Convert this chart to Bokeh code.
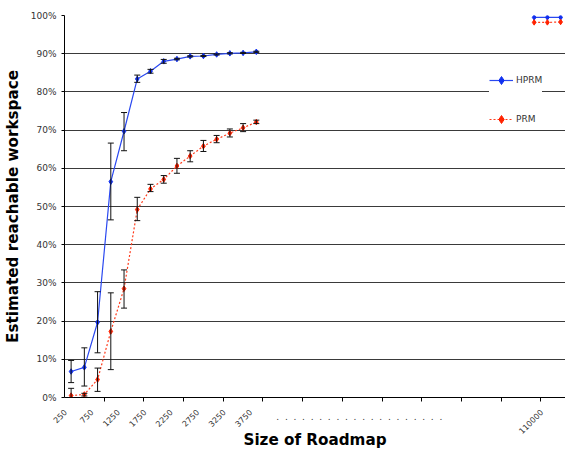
from bokeh.plotting import figure
from bokeh.models import (FixedTicker, Whisker, TeeHead, ColumnDataSource, Legend,
                          LegendItem, Label, PrintfTickFormatter, Range1d)
from bokeh.embed import file_html
from bokeh.resources import INLINE

# ---------------- data ----------------
sizes = [250, 500, 750, 1000, 1250, 1500, 1750, 2000, 2250, 2500, 2750, 3000, 3250, 3500, 3750]
hprm = [6.8, 7.9, 19.7, 56.5, 69.7, 83.4, 85.4, 88.0, 88.6, 89.3, 89.4, 89.8, 90.1, 90.2, 90.5]
hprm_lo = [3.9, 3.0, 11.7, 46.5, 64.6, 82.5, 84.9, 87.5, 88.4, 89.15, 89.25, 89.65, 89.95, 90.05, 90.35]
hprm_hi = [9.7, 13.0, 27.7, 66.6, 74.6, 84.4, 85.9, 88.5, 88.8, 89.45, 89.55, 89.95, 90.25, 90.35, 90.65]
prm = [0.5, 0.8, 4.7, 17.3, 28.5, 49.2, 54.6, 57.1, 60.6, 63.2, 65.8, 67.6, 69.2, 70.6, 72.1]
prm_lo = [0.0, 0.4, 1.6, 7.3, 23.4, 46.3, 53.9, 56.1, 58.7, 61.7, 64.4, 66.7, 68.2, 69.6, 71.7]
prm_hi = [2.4, 1.1, 7.7, 27.4, 33.4, 52.4, 55.8, 58.1, 62.6, 64.6, 67.3, 68.6, 70.3, 71.7, 72.6]

gap_categories = 20  # empty categories between the two groups
far_sizes = [100000, 110000, 120000]
far_labelled = [110000]
far_hprm = [99.5, 99.5, 99.5]
far_prm = [98.2, 98.2, 98.3]

y_ticks = [0, 10, 20, 30, 40, 50, 60, 70, 80, 90, 100]

# ---------------- positions from category order ----------------
x_main = list(range(len(sizes)))
x_far = [len(sizes) + gap_categories + i for i in range(len(far_sizes))]
n_cat = len(sizes) + gap_categories + len(far_sizes)

LABEL_SHIFT = -0.45  # rotated labels end slightly left of their category centre
labelled = [(x, str(s)) for x, s in zip(x_main[::2], sizes[::2])]
labelled += [(x_far[far_sizes.index(v)], str(v)) for v in far_labelled]
label_ticks = [x + LABEL_SHIFT for x, _ in labelled]
overrides = {x + LABEL_SHIFT: t for x, t in labelled}
tick_marks = [k + 2.5 for k in range(0, n_cat, 3)]

FONT = "DejaVu Sans"

p = figure(width=565, height=452, output_backend="svg", toolbar_location=None, title=None,
           x_range=Range1d(-0.5, n_cat - 0.63), y_range=Range1d(0, 100),
           min_border_left=62, min_border_top=15, min_border_right=0, min_border_bottom=55)
p.outline_line_color = None
p.background_fill_color = "white"

# grid
p.xgrid.visible = False
p.ygrid.ticker = FixedTicker(ticks=y_ticks)
p.ygrid.grid_line_color = "#3a3a3a"
p.ygrid.grid_line_width = 1.2

# y axis
ya = p.yaxis[0]
ya.ticker = FixedTicker(ticks=y_ticks)
ya.formatter = PrintfTickFormatter(format="%d%%")
ya.major_tick_out = 3
ya.major_tick_in = 0
ya.major_tick_line_color = "black"
ya.minor_tick_line_color = None
ya.axis_line_color = "black"
ya.major_label_text_font = FONT
ya.major_label_text_font_size = "9px"
ya.major_label_text_color = "#333333"
ya.major_label_standoff = 5
ya.axis_label = "Estimated reachable workspace"
ya.axis_label_text_font = FONT
ya.axis_label_text_font_style = "bold"
ya.axis_label_text_font_size = "15.2px"
ya.axis_label_text_color = "black"
ya.axis_label_standoff = 6

# x axis
xa = p.xaxis[0]
xa.ticker = FixedTicker(ticks=label_ticks, minor_ticks=tick_marks)
xa.major_label_overrides = overrides
xa.major_tick_line_color = None
xa.major_tick_out = 0
xa.major_tick_in = 0
xa.minor_tick_line_color = "black"
xa.minor_tick_out = 4
xa.minor_tick_in = 0
xa.axis_line_color = "black"
xa.major_label_orientation = 0.785398
xa.major_label_text_font = FONT
xa.major_label_text_font_size = "8px"
xa.major_label_text_color = "#333333"
xa.major_label_standoff = 9
xa.axis_label = "Size of Roadmap"
xa.axis_label_text_font = FONT
xa.axis_label_text_font_style = "bold"
xa.axis_label_text_font_size = "15.2px"
xa.axis_label_text_color = "black"
xa.axis_label_standoff = -9

# error bars
HEAD = 6
for lo, hi in ((hprm_lo, hprm_hi), (prm_lo, prm_hi)):
    src = ColumnDataSource(dict(x=x_main, lo=lo, hi=hi))
    w = Whisker(source=src, base="x", lower="lo", upper="hi",
                line_color="#111111", line_width=1,
                upper_head=TeeHead(size=HEAD, line_color="#111111", line_width=1),
                lower_head=TeeHead(size=HEAD, line_color="#111111", line_width=1),
                level="annotation")
    p.add_layout(w)

BLUE = "#2a48f0"
BLUE_M = "#1030f0"
RED = "#ff3a1a"
RED_M = "#ff2200"

l1 = p.line(x_main, hprm, line_color=BLUE, line_width=1.2)
s1 = p.scatter(x_main, hprm, marker="diamond", size=5.5, color=BLUE_M)
p.line(x_far, far_hprm, line_color=BLUE, line_width=1.2)
p.scatter(x_far, far_hprm, marker="diamond", size=5.5, color=BLUE_M)

l2 = p.line(x_main, prm, line_color=RED, line_width=1.2, line_dash="2 2")
s2 = p.scatter(x_main, prm, marker="diamond", size=5.5, color=RED_M)
p.line(x_far, far_prm, line_color=RED, line_width=1.2, line_dash="2 2")
p.scatter(x_far, far_prm, marker="diamond", size=5.5, color=RED_M)

legend = Legend(items=[LegendItem(label="HPRM", renderers=[l1, s1]),
                       LegendItem(label="PRM", renderers=[l2, s2])],
                location=(425, 268), border_line_color=None,
                background_fill_color="white", background_fill_alpha=1.0,
                padding=12, margin=0, spacing=19, glyph_width=24, glyph_height=20,
                label_height=20, label_standoff=3,
                label_text_font=FONT, label_text_font_size="9px",
                label_text_color="#333333")
p.add_layout(legend)

# dotted break marker on the category axis (panel above, drawn below the frame)
dots_x = x_main[-1] + gap_categories * 0.4
p.add_layout(Label(x=dots_x, y=-401.5, y_units="screen", text=".\u00a0\u00a0" * 20,
                   text_align="center", text_baseline="middle", text_font=FONT,
                   text_font_size="9px", text_color="#333333"), "above")

open("out.html", "w").write(file_html(p, INLINE))
